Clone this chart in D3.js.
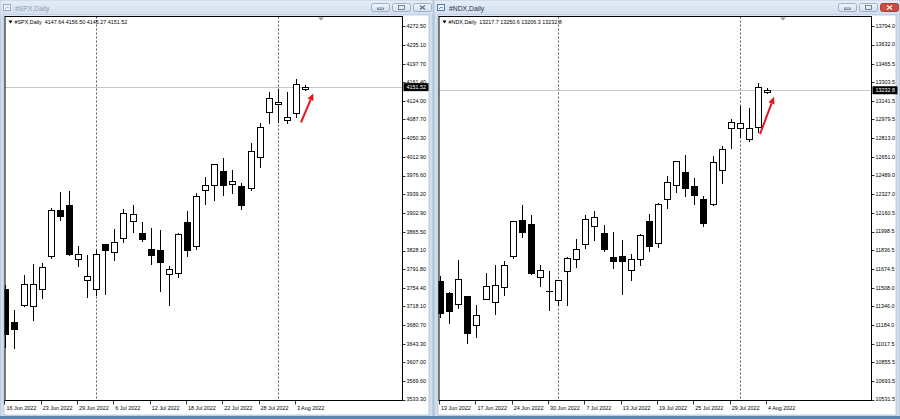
<!DOCTYPE html>
<html><head><meta charset="utf-8">
<script src="https://cdn.jsdelivr.net/npm/d3@7/dist/d3.min.js"></script>
<style>
html,body{margin:0;padding:0;background:#fff;overflow:hidden;}
svg{display:block;font-family:"Liberation Sans",Arial,sans-serif;}
</style></head><body>
<svg id="c" width="900" height="419"></svg>
<script>
// ---------- DATA ----------
const spxDates = ["2022-06-16","2022-06-17","2022-06-21","2022-06-22","2022-06-23","2022-06-24","2022-06-27","2022-06-28","2022-06-29","2022-06-30",
  "2022-07-01","2022-07-05","2022-07-06","2022-07-07","2022-07-08","2022-07-11","2022-07-12","2022-07-13","2022-07-14","2022-07-15",
  "2022-07-18","2022-07-19","2022-07-20","2022-07-21","2022-07-22","2022-07-25","2022-07-26","2022-07-27","2022-07-28","2022-07-29",
  "2022-08-01","2022-08-02","2022-08-03","2022-08-04"];
const spxOpen  = [3752.7,3686.5,3719.6,3717.6,3752.7,3816.7,3909.2,3919.2,3812.1,3770.5,3752.7,3840.5,3826.0,3853.8,3886.7,3862.9,3832.0,3830.0,3782.4,3784.4,3884.7,3837.9,3948.9,3957.4,3985.1,3959.4,3955.4,3952.1,4013.5,4101.5,4117.9,4086.2,4099.5,4147.64];
const spxHigh  = [3759.2,3709.7,3779.0,3802.2,3802.8,3912.0,3944.1,3946.1,3836.5,3818.7,3828.6,3841.5,3871.6,3911.2,3919.2,3884.7,3873.6,3868.2,3797.9,3862.0,3905.9,3941.0,3973.8,3999.5,4011.5,3987.1,3962.0,4040.0,4079.7,4141.1,4147.1,4141.1,4167.5,4156.50];
const spxLow   = [3636.4,3634.4,3718.0,3689.9,3733.5,3813.7,3889.4,3818.7,3797.5,3736.0,3739.4,3741.4,3808.8,3845.0,3864.9,3847.0,3800.8,3748.3,3719.6,3775.7,3817.7,3832.0,3919.7,3927.7,3939.0,3942.9,3910.4,3948.9,3992.5,4079.7,4082.8,4079.7,4091.6,4145.27];
const spxClose = [3663.5,3673.4,3761.2,3762.6,3795.5,3907.9,3896.0,3822.0,3822.0,3777.1,3820.7,3828.6,3845.0,3902.5,3901.3,3851.0,3818.7,3804.8,3791.5,3859.9,3829.6,3935.6,3958.8,3998.4,3958.8,3966.7,3917.8,4025.4,4071.7,4130.4,4121.3,4091.6,4157.0,4151.52];
const spxPriceTicks = ["4272.50","4235.10","4197.70","4161.40","4124.00","4087.70","4050.30","4012.90","3976.60","3939.20","3902.90","3865.50","3828.10","3791.80","3754.40","3718.10","3680.70","3643.30","3607.00","3569.60","3533.30"];
const spxDateTicks = ["2022-06-16","2022-06-23","2022-06-29","2022-07-06","2022-07-12","2022-07-18","2022-07-22","2022-07-28","2022-08-03"];
const spxArrow = [[32.56, 4081.7],[33.91, 4139.1]];

const ndxDates = ["2022-06-13","2022-06-14","2022-06-15","2022-06-16","2022-06-17","2022-06-21","2022-06-22","2022-06-23","2022-06-24","2022-06-27",
  "2022-06-28","2022-06-29","2022-06-30","2022-07-01","2022-07-05","2022-07-06","2022-07-07","2022-07-08","2022-07-11","2022-07-12",
  "2022-07-13","2022-07-14","2022-07-15","2022-07-18","2022-07-19","2022-07-20","2022-07-21","2022-07-22","2022-07-25","2022-07-26",
  "2022-07-27","2022-07-28","2022-07-29","2022-08-01","2022-08-02","2022-08-03","2022-08-04"];
const ndxOpen  = [11563.6,11464.8,11368.6,11432.4,11184.9,11412.3,11382.6,11513.8,11782.3,12097.2,12068.3,11601.2,11479.0,11397.4,11651.1,11762.2,11887.2,12047.3,11987.8,11776.2,11784.9,11666.0,11756.1,12088.4,11898.6,12287.0,12409.4,12519.6,12394.5,12280.8,12237.1,12534.5,12899.2,12904.5,12808.3,12908.0,13217.7];
const ndxHigh  = [11607.3,11467.0,11747.3,11436.0,11359.8,11636.2,11703.6,11738.5,12092.0,12228.4,12140.9,11709.7,11653.7,11575.0,11773.0,11937.1,12140.9,12175.9,12053.4,11992.2,11928.4,11805.9,11975.0,12155.8,12246.0,12484.6,12616.0,12665.7,12470.6,12307.1,12659.6,12744.4,12977.9,13096.9,13074.2,13292.8,13250.6];
const ndxLow   = [11251.4,11198.9,11333.6,11027.4,11076.4,11406.2,11281.1,11447.3,11767.4,11951.1,11631.0,11519.9,11316.1,11353.7,11359.8,11688.7,11854.9,11922.2,11826.0,11681.7,11456.0,11572.4,11703.6,11828.6,11863.6,12204.7,12344.7,12309.7,12237.1,12047.3,12233.0,12423.4,12724.3,12820.5,12788.1,12869.5,13206.3];
const ndxClose = [11286.3,11303.8,11587.2,11114.9,11266.2,11519.9,11534.8,11703.6,12088.4,11994.8,11639.7,11666.0,11476.0,11572.4,11770.9,11843.5,12112.0,12126.0,11849.6,11741.2,11743.0,11760.4,11972.1,11869.7,12243.2,12432.2,12613.2,12383.2,12322.0,12073.5,12601.8,12715.5,12951.7,12943.0,12899.2,13257.8,13232.8];
const ndxPriceTicks = ["13794.0","13632.0","13465.5","13303.5","13141.5","12979.5","12813.0","12651.0","12489.0","12327.0","12160.5","11998.5","11836.5","11674.5","11508.0","11346.0","11184.0","11017.5","10855.5","10693.5","10531.5"];
const ndxDateTicks = ["2022-06-13","2022-06-17","2022-06-24","2022-06-30","2022-07-07","2022-07-13","2022-07-19","2022-07-25","2022-07-29","2022-08-04"];
const ndxArrow = [[35.23, 12849.4],[36.77, 13175.6]];

// ---------- DRAWING ----------
const svg = d3.select('#c');
const defs = svg.append('defs');
const tg = defs.append('linearGradient').attr('id','tbar').attr('x1',0).attr('y1',0).attr('x2',0).attr('y2',1);
tg.append('stop').attr('offset','0%').attr('stop-color','#e4ecf6');
tg.append('stop').attr('offset','100%').attr('stop-color','#d3dfee');
const bg = defs.append('linearGradient').attr('id','btn').attr('x1',0).attr('y1',0).attr('x2',0).attr('y2',1);
bg.append('stop').attr('offset','0%').attr('stop-color','#f2f6fb');
bg.append('stop').attr('offset','100%').attr('stop-color','#d4deea');

svg.append('rect').attr('width',900).attr('height',419).attr('fill','#c5d4e6');

const monFmt = d3.timeFormat('%-d %b %Y');
const parse = d3.timeParse('%Y-%m-%d');

function windowChrome(x0, x1, title, active) {
  const g = svg.append('g');
  g.append('rect').attr('x',x0).attr('y',0).attr('width',x1-x0).attr('height',419).attr('fill','#d2deec').attr('stroke','#a9bbd1');
  g.append('rect').attr('x',x0+0.5).attr('y',0.5).attr('width',x1-x0-1).attr('height',14).attr('fill','url(#tbar)');
  // icon
  g.append('rect').attr('x',x0+3.5).attr('y',4.5).attr('width',7).attr('height',6).attr('fill','#eef4fb').attr('stroke', active ? '#4f79a8' : '#98acc4');
  g.append('path').attr('d',`M${x0+5},9 L${x0+7},7 L${x0+9},8`).attr('fill','none').attr('stroke', active ? '#3a6fb0' : '#98acc4').attr('stroke-width',0.8);
  g.append('text').attr('x',x0+15).attr('y',10.5).attr('font-size',6.8)
    .attr('fill', active ? '#1f3550' : '#8c9db3').text(title);
  // buttons
  const bx = [x1-62, x1-41, x1-20];
  bx.forEach((b,k)=>{
    const isClose = k===2;
    g.append('rect').attr('x',b+0.5).attr('y',3.5).attr('width',18).attr('height',8).attr('rx',2)
      .attr('fill', isClose && active ? '#cf4a3f' : 'url(#btn)').attr('stroke', isClose && active ? '#8f2f28' : '#8ea2bb').attr('stroke-width',0.8);
    const cx = b+9.5, cy = 7.5, col = isClose && active ? '#fff' : '#5a6d86';
    if (k===0) g.append('rect').attr('x',cx-3).attr('y',cy+0.5).attr('width',6).attr('height',1.5).attr('fill','none').attr('stroke',col).attr('stroke-width',0.7);
    if (k===1) g.append('rect').attr('x',cx-3).attr('y',cy-2).attr('width',6).attr('height',4).attr('fill','none').attr('stroke',col).attr('stroke-width',0.8);
    if (k===2) g.append('path').attr('d',`M${cx-2.5},${cy-2} L${cx+2.5},${cy+2} M${cx+2.5},${cy-2} L${cx-2.5},${cy+2}`).attr('stroke',col).attr('stroke-width',1.1);
  });
  // client area
  g.append('rect').attr('x',x0+4).attr('y',15).attr('width',x1-x0-8).attr('height',400).attr('fill','#ffffff').attr('stroke','#9fb2c9').attr('stroke-width',0.6);
}

function panel(cfg) {
  const {name, dates, open, high, low, close, ticks, dateTicks, arrow, left, right, xFirst, xLast, id} = cfg;
  const top = 16.5, bottom = 400.5;
  const n = dates.length;
  const x = d3.scaleLinear().domain([0, n-1]).range([xFirst, xLast]);
  const yMax = +ticks[0], yMin = +ticks[ticks.length-1];
  const y = d3.scaleLinear().domain([yMin, yMax]).range([399.5, 26]);
  const g = svg.append('g');
  defs.append('clipPath').attr('id','clip'+id).append('rect')
    .attr('x',left).attr('y',top).attr('width',right-left).attr('height',bottom-top);
  const pg = g.append('g').attr('clip-path',`url(#clip${id})`);

  // period separators (month starts)
  const sepIdx = d3.range(n).filter(i => i>0 && dates[i].slice(5,7)!==dates[i-1].slice(5,7));
  pg.selectAll('line.sep').data(sepIdx).join('line')
    .attr('x1',i=>Math.round(x(i))+0.5).attr('x2',i=>Math.round(x(i))+0.5)
    .attr('y1',top).attr('y2',bottom).attr('stroke','#333').attr('stroke-width',0.8).attr('stroke-dasharray','2,2');

  // current price line
  const last = close[n-1];
  pg.append('line').attr('x1',left).attr('x2',right).attr('y1',Math.round(y(last))+0.5).attr('y2',Math.round(y(last))+0.5)
    .attr('stroke','#c8c8c8').attr('stroke-width',1);

  const idx = d3.range(n);
  const cx = i => Math.round(x(i))+0.5;
  pg.selectAll('line.wick').data(idx).join('line')
    .attr('x1',cx).attr('x2',cx)
    .attr('y1',i=>Math.round(y(high[i]))).attr('y2',i=>Math.round(y(low[i]))+1)
    .attr('stroke','#000').attr('stroke-width',1);
  pg.selectAll('rect.body').data(idx).join('rect')
    .attr('x',i=>cx(i)-3).attr('width',6)
    .attr('y',i=>Math.round(y(Math.max(open[i],close[i])))+0.5)
    .attr('height',i=>Math.max(Math.round(y(Math.min(open[i],close[i]))) - Math.round(y(Math.max(open[i],close[i]))), 0.01))
    .attr('fill',i=> close[i] < open[i] ? '#000' : '#fff')
    .attr('stroke','#000').attr('stroke-width',1);

  // arrow annotation
  const ax0 = x(arrow[0][0]), ay0 = y(arrow[0][1]), ax1 = x(arrow[1][0]), ay1 = y(arrow[1][1]);
  const ang = Math.atan2(ay1-ay0, ax1-ax0);
  const hl = 7, hw = 3.2;
  const bxp = ax1 - hl*Math.cos(ang), byp = ay1 - hl*Math.sin(ang);
  pg.append('line').attr('x1',ax0).attr('y1',ay0).attr('x2',bxp).attr('y2',byp).attr('stroke','#e8141b').attr('stroke-width',2);
  pg.append('path').attr('d',`M${ax1},${ay1} L${bxp - hw*Math.sin(ang)},${byp + hw*Math.cos(ang)} L${bxp + hw*Math.sin(ang)},${byp - hw*Math.cos(ang)} Z`)
    .attr('fill','#e8141b');

  // frame
  g.append('rect').attr('x',left+0.5).attr('y',top).attr('width',right-left-0.5).attr('height',bottom-top)
    .attr('fill','none').attr('stroke','#000').attr('stroke-width',1);

  // chart shift marker
  const sx = x(n-1)+16;
  g.append('path').attr('d',`M${sx-3},${top+1} L${sx+3},${top+1} L${sx},${top+4} Z`).attr('fill','#9a9a9a');

  // price axis
  const ya = g.append('g');
  ya.selectAll('line').data(ticks).join('line')
    .attr('x1',right).attr('x2',right+3).attr('y1',d=>Math.round(y(+d))+0.5).attr('y2',d=>Math.round(y(+d))+0.5)
    .attr('stroke','#000').attr('stroke-width',0.8);
  ya.selectAll('text').data(ticks).join('text')
    .attr('x',right+4).attr('y',d=>y(+d)).attr('dy','0.36em')
    .attr('font-size',5.4).attr('fill','#000').text(d=>d);

  // current price label
  const lp = y(last);
  const dec = ticks[0].split('.')[1].length;
  g.append('rect').attr('x',right+1).attr('y',lp-4).attr('width',25).attr('height',8).attr('fill','#000');
  g.append('text').attr('x',right+4).attr('y',lp).attr('dy','0.36em').attr('font-size',5.4).attr('fill','#fff').text(last.toFixed(dec));

  // date axis
  const da = g.append('g');
  const di = dateTicks.map(d => dates.indexOf(d));
  da.selectAll('line').data(di).join('line')
    .attr('x1',i=>Math.round(x(i))-0.5).attr('x2',i=>Math.round(x(i))-0.5).attr('y1',bottom).attr('y2',bottom+4)
    .attr('stroke','#000').attr('stroke-width',0.8);
  da.selectAll('text').data(di).join('text')
    .attr('x',i=>Math.max(x(i),left+1)+1).attr('y',409.5)
    .attr('font-size',5.4).attr('fill','#000').text(i=>monFmt(parse(dates[i])));

  // header
  g.append('path').attr('d',`M${left+4},${20.5} L${left+8},${20.5} L${left+6},${23.5} Z`).attr('fill','#000');
  const hdr = `${name}  ${open[n-1].toFixed(dec)} ${high[n-1].toFixed(dec)} ${low[n-1].toFixed(dec)} ${close[n-1].toFixed(dec)}`;
  g.append('text').attr('x',left+10).attr('y',24).attr('font-size',5.4).attr('fill','#000').attr('xml:space','preserve').text(hdr);
}

windowChrome(0, 433, '#SPX,Daily', false);
windowChrome(434, 900, '#NDX,Daily', true);
svg.append('rect').attr('x',0).attr('y',416).attr('width',900).attr('height',3).attr('fill','#5d87b0');

panel({name:'#SPX,Daily', id:'spx', dates:spxDates, open:spxOpen, high:spxHigh, low:spxLow, close:spxClose,
  ticks:spxPriceTicks, dateTicks:spxDateTicks, arrow:spxArrow, left:4.5, right:402.5, xFirst:5.4, xLast:305.0});
panel({name:'#NDX,Daily', id:'ndx', dates:ndxDates, open:ndxOpen, high:ndxHigh, low:ndxLow, close:ndxClose,
  ticks:ndxPriceTicks, dateTicks:ndxDateTicks, arrow:ndxArrow, left:438.5, right:871.5, xFirst:440.1, xLast:767.0});
</script>
</body></html>
